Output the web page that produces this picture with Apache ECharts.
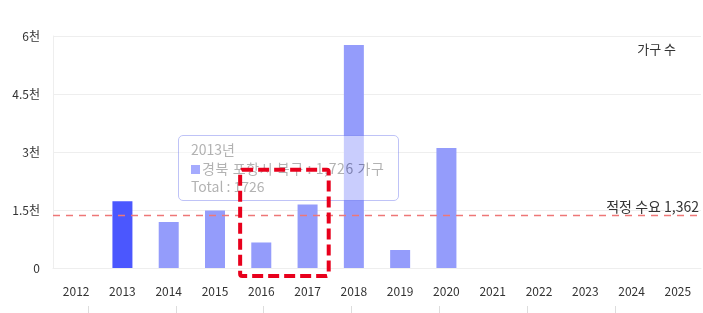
<!DOCTYPE html>
<html><head><meta charset="utf-8">
<script src="https://cdn.jsdelivr.net/npm/echarts@6/dist/echarts.min.js"></script>
<style>html,body{margin:0;padding:0;background:#fff}#c{width:703px;height:313px}
#c canvas[data-zr-dom-id="zr_5"]{z-index:20 !important}</style>
</head><body><div id="c"></div>
<script>
const categories = ['2012','2013','2014','2015','2016','2017','2018','2019','2020','2021','2022','2023','2024','2025'];
const values = [null, 1726, 1190, 1487, 660, 1642, 5767, 465, 3103, null, null, null, null, null];
const yTicks = [0, 1500, 3000, 4500, 6000];
const yTickLabels = ['0', '1.5천', '3천', '4.5천', '6천'];
const demandValue = 1362;
const demandLabel = '적정 수요 1,362';
const seriesName = '경북 포항시 북구';
const unitTitle = '가구 수';
const highlightIndex = 1;
const boxFrom = '2016', boxTo = '2017', boxTop = 2540, boxBottom = -207;

const FONT = '"Noto Sans CJK KR", "Noto Sans", sans-serif';
const chart = echarts.init(document.getElementById('c'), null, {renderer: 'canvas'});
const barData = values.map((v, i) => ({
  value: v,
  itemStyle: {color: i === highlightIndex ? '#4b57fe' : '#949cfb'}
}));
chart.setOption({
  animation: false,
  textStyle: {fontFamily: FONT},
  title: {text: unitTitle, right: 22, top: 38, textStyle: {fontSize: 13, fontWeight: 'normal', color: '#333', fontFamily: FONT}},
  grid: [
    {left: 53, right: 2, top: 36, bottom: 45},
    {left: 87.9, right: 0, top: 306, height: 0}
  ],
  tooltip: {
    trigger: 'item', alwaysShowContent: true, transitionDuration: 0,
    position: [178, 135],
    backgroundColor: '#fff', borderColor: '#7f88f0', borderWidth: 1, padding: [4, 14, 4, 12],
    extraCssText: 'opacity:0.5;box-shadow:none;border-radius:5px;z-index:5;line-height:18.5px;',
    textStyle: {fontSize: 14, color: '#666', fontFamily: FONT},
    formatter: p => `<div style="line-height:18.5px">${categories[p.dataIndex]}년<br/><span style="display:inline-block;width:9px;height:9px;background:#4b57fe;margin-right:2px"></span><span style="letter-spacing:0.6px">${seriesName} : ${p.value.toLocaleString('en-US')} 가구</span><br/>Total : ${p.value}</div>`
  },
  xAxis: [{
    type: 'category', data: categories, gridIndex: 0,
    axisLine: {show: true, lineStyle: {color: '#eee'}},
    axisTick: {show: false},
    axisLabel: {color: '#333', fontSize: 12, margin: 17, fontFamily: FONT}
  }, {
    type: 'value', gridIndex: 1, min: 1, max: 8, interval: 1,
    axisLine: {show: false}, axisLabel: {show: false}, splitLine: {show: false},
    axisTick: {show: true, length: 8, lineStyle: {color: '#ddd'}}
  }],
  yAxis: [{
    type: 'value', min: 0, max: 6000, interval: 1500, gridIndex: 0,
    axisLine: {show: true, lineStyle: {color: '#eee'}},
    axisTick: {show: false},
    splitLine: {lineStyle: {color: '#eee'}},
    axisLabel: {color: '#333', fontSize: 12, margin: 13, fontFamily: FONT,
      formatter: v => yTickLabels[yTicks.indexOf(v)]}
  }, {
    type: 'value', gridIndex: 1, show: false
  }],
  series: [{
    name: seriesName, type: 'bar', data: barData, barWidth: 20,
    xAxisIndex: 0, yAxisIndex: 0,
    markLine: {
      silent: true, symbol: 'none',
      lineStyle: {color: '#ee7777', type: [7, 6], width: 1.3, opacity: 1},
      label: {position: 'insideEndTop', formatter: demandLabel, color: '#333', fontSize: 14, distance: [2, 2], fontFamily: FONT},
      data: [{yAxis: demandValue}]
    }
  }]
});
const p1 = chart.convertToPixel({xAxisIndex: 0}, boxFrom);
const p2 = chart.convertToPixel({xAxisIndex: 0}, boxTo);
const half = (p2 - p1) / 2;
const yT = chart.convertToPixel({yAxisIndex: 0}, boxTop);
const yB = chart.convertToPixel({yAxisIndex: 0}, boxBottom);
chart.setOption({
  graphic: [{
    type: 'rect', z: 100, zlevel: 5,
    shape: {x: p1 - half + 2, y: yT, width: (p2 + half) - (p1 - half) - 4, height: yB - yT, r: 2},
    style: {fill: 'none', stroke: '#e8001c', lineWidth: 4, lineDash: [11, 5]}
  }]
});
chart.dispatchAction({type: 'showTip', seriesIndex: 0, dataIndex: highlightIndex});
</script></body></html>
